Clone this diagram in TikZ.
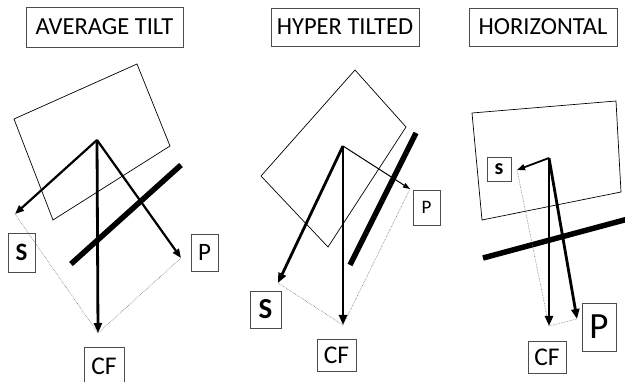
\documentclass[tikz,border=0pt]{standalone}
\usepackage{fontspec}
\setmainfont{Carlito}
\usetikzlibrary{arrows.meta}
\begin{document}
\begin{tikzpicture}[x=1pt,y=-1pt,
  lbl/.style={draw=black!70,line width=0.8pt,inner sep=0pt,align=center},
  ttl/.style={lbl,font=\fontsize{24.5}{24.5}\selectfont},
  frame/.style={draw=black,line width=0.7pt},
  vec/.style={draw=black,line width=2.2pt,-{Triangle[length=9pt,width=7pt]}},
  vecthin/.style={draw=black,line width=1pt,-{Triangle[length=7pt,width=5pt]}},
  vecmid/.style={draw=black,line width=1.8pt,-{Triangle[length=8pt,width=6pt]}},
  vecbig/.style={draw=black,line width=2.8pt,-{Triangle[length=10pt,width=8pt]}},
  comp/.style={draw=black!55,densely dotted,line width=0.6pt},
  bar/.style={draw=black,line width=5.5pt}]
\useasboundingbox (0,0) rectangle (625,382);

% ---------- Panel 1: AVERAGE TILT ----------
\node[ttl,minimum width=157pt,minimum height=40pt] (t1) at (104.5,27) {AVERAGE TILT};
\draw[frame] (14,119) -- (137,64) -- (170,146) -- (53,220) -- cycle;
\coordinate (o1) at (97,140);
\coordinate (s1) at (15,214);
\coordinate (p1) at (181,258);
\coordinate (c1) at (98,333);
\draw[bar] (71,264) -- (181,165);
\draw[comp] (s1) -- (c1);
\draw[comp] (p1) -- (c1);
\draw[vec] (o1) -- (s1);
\draw[vec] (o1) -- (p1);
\draw[vecbig] (o1) -- (c1);
\node[lbl,minimum width=27pt,minimum height=39pt,font=\bfseries\fontsize{25}{25}\selectfont] (S1) at (21.5,252.5) {S};
\node[lbl,minimum width=27pt,minimum height=37pt,font=\fontsize{25}{25}\selectfont] (P1) at (204.5,252.5) {P};
\node[lbl,minimum width=40pt,minimum height=38pt,font=\fontsize{25.5}{25.5}\selectfont] (C1) at (104,366) {CF};

% ---------- Panel 2: HYPER TILTED ----------
\node[ttl,minimum width=148pt,minimum height=38pt] (t2) at (345,27) {HYPER TILTED};
\draw[frame] (355,70) -- (406,127) -- (328,247) -- (261,176) -- cycle;
\coordinate (o2) at (343,146);
\coordinate (s2) at (278,283);
\coordinate (p2) at (410,189);
\coordinate (c2) at (343,325);
\draw[bar] (350,265) -- (416,133);
\draw[comp] (s2) -- (c2);
\draw[comp] (p2) -- (c2);
\draw[vecbig] (o2) -- (s2);
\draw[vecthin] (o2) -- (p2);
\draw[vecbig] (o2) -- (c2);
\node[lbl,minimum width=31pt,minimum height=37pt,font=\bfseries\fontsize{29}{29}\selectfont] (S2) at (265.5,309.5) {S};
\node[lbl,minimum width=27pt,minimum height=35pt,font=\fontsize{19}{19}\selectfont] (P2) at (426.5,207.5) {P};
\node[lbl,minimum width=39pt,minimum height=32pt,font=\fontsize{25.5}{25.5}\selectfont] (C2) at (336.5,355.5) {CF};

% ---------- Panel 3: HORIZONTAL ----------
\node[ttl,minimum width=148pt,minimum height=38pt] (t3) at (543,27) {HORIZONTAL};
\draw[frame] (472,113) -- (616,101) -- (621,192) -- (482,220) -- cycle;
\coordinate (o3) at (549,158);
\coordinate (s3) at (517,170);
\coordinate (p3) at (577,319);
\coordinate (c3) at (549,326);
\draw[bar] (483,258) -- (628,219);
\draw[comp] (s3) -- (c3);
\draw[comp] (p3) -- (c3);
\draw[vecmid] (o3) -- (s3);
\draw[vecbig] (o3) -- (p3);
\draw[vecbig] (o3) -- (c3);
\node[lbl,minimum width=24pt,minimum height=24pt,font=\bfseries\fontsize{22}{22}\selectfont] (S3) at (499,169) {s};
\node[lbl,minimum width=34pt,minimum height=48pt,font=\fontsize{37}{37}\selectfont] (P3) at (599,327) {P};
\node[lbl,minimum width=38pt,minimum height=32pt,font=\fontsize{25.5}{25.5}\selectfont] (C3) at (547,357) {CF};
\end{tikzpicture}
\end{document}
